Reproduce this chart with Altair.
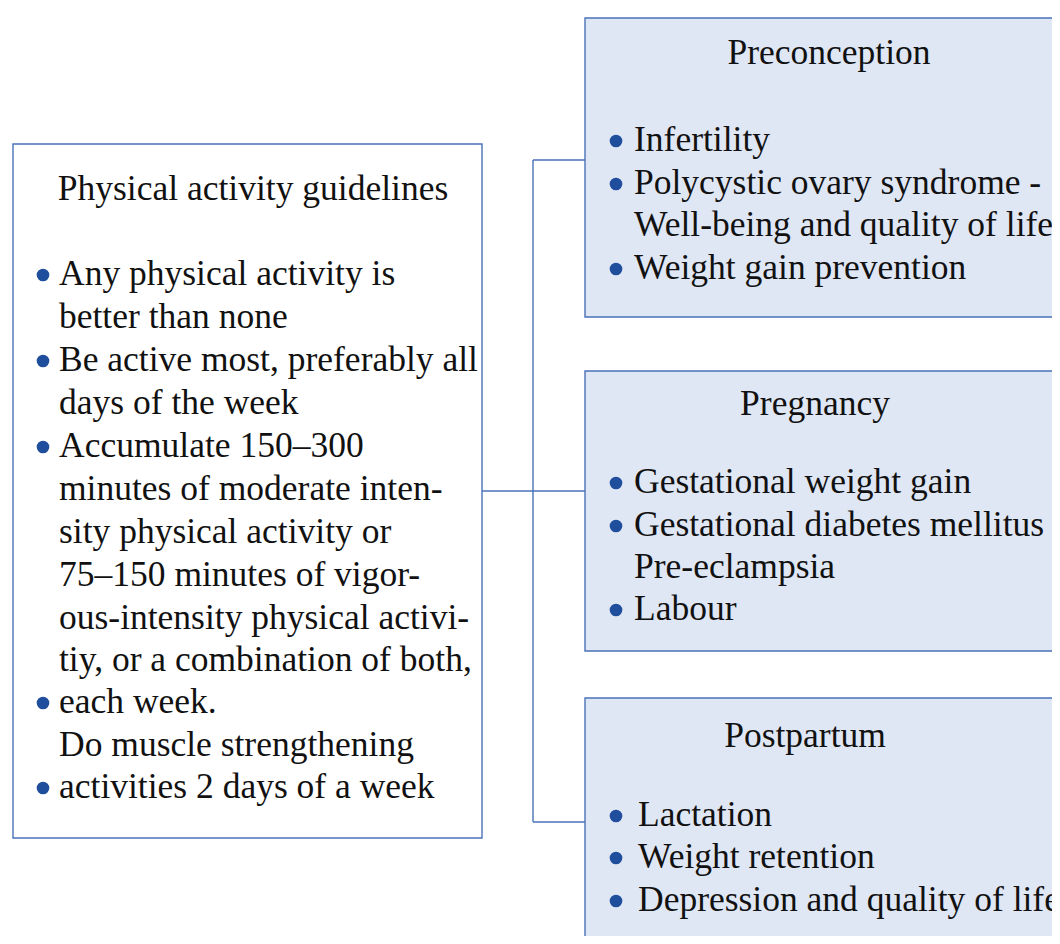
import altair as alt
import pandas as pd

FONT = "Liberation Serif"
FSIZE = 35.5
BORDER = "#4a72b8"
FILL = "#dfe6f4"
BULLET = "#1f4e9c"

# Boxes (image pixel coordinates)
box_name = ["Guidelines", "Preconception", "Pregnancy", "Postpartum"]
box_x1 = [13, 585, 585, 585]
box_x2 = [482, 1075, 1075, 1075]
box_y1 = [144, 18, 371, 698]
box_y2 = [838, 317, 651, 960]
box_fill = ["#ffffff", FILL, FILL, FILL]

# Connector lines
seg_x1 = [533, 533, 482, 533]
seg_x2 = [533, 585, 585, 585]
seg_y1 = [160, 160, 491, 822]
seg_y2 = [822, 160, 491, 822]

# Titles
title_text = ["Physical activity guidelines", "Preconception", "Pregnancy", "Postpartum"]
title_x = [253, 829, 815, 805]
title_y = [200, 64, 415, 747]

# Body lines
line_text = [
    "Any physical activity is",
    "better than none",
    "Be active most, preferably all",
    "days of the week",
    "Accumulate 150\u2013300",
    "minutes of moderate inten-",
    "sity physical activity or",
    "75\u2013150 minutes of vigor-",
    "ous-intensity physical activi-",
    "tiy, or a combination of both,",
    "each week.",
    "Do muscle strengthening",
    "activities 2 days of a week",
    "Infertility",
    "Polycystic ovary syndrome -",
    "Well-being and quality of life",
    "Weight gain prevention",
    "Gestational weight gain",
    "Gestational diabetes mellitus",
    "Pre-eclampsia",
    "Labour",
    "Lactation",
    "Weight retention",
    "Depression and quality of life",
]
line_x = [59] * 13 + [634] * 4 + [634] * 4 + [638] * 3
line_y = [285, 328, 371, 414, 457, 500, 543, 586, 629, 671, 713, 756, 798,
          151, 194, 236, 279,
          493, 536, 578, 620,
          826, 868, 911]
line_bullet = [True, False, True, False, True, False, False, False, False, False, True, False, True,
               True, True, False, True,
               True, True, False, True,
               True, True, True]
bullet_x = [43] * 13 + [616] * 11

boxes = pd.DataFrame({"name": box_name, "x1": box_x1, "x2": box_x2,
                      "y1": box_y1, "y2": box_y2, "fill": box_fill})
segs = pd.DataFrame({"x1": seg_x1, "x2": seg_x2, "y1": seg_y1, "y2": seg_y2})
titles = pd.DataFrame({"t": title_text, "x": title_x, "y": title_y})
lines = pd.DataFrame({"t": line_text, "x": line_x, "y": line_y,
                      "b": line_bullet, "bx": bullet_x})
bullets = lines[lines["b"]].copy()
bullets["by"] = bullets["y"] - 10

W, H = 1044, 928
xs = alt.Scale(domain=[8, 8 + W], nice=False, zero=False)
ys = alt.Scale(domain=[8, 8 + H], nice=False, zero=False, reverse=True)

X = lambda f: alt.X(f, type="quantitative", scale=xs, axis=None)
Y = lambda f: alt.Y(f, type="quantitative", scale=ys, axis=None)

rects = alt.Chart(boxes).mark_rect(stroke=BORDER, strokeWidth=1.4, clip=True).encode(
    x=X("x1"), x2="x2", y=Y("y1"), y2="y2",
    fill=alt.Fill("fill:N", scale=None),
)
rules = alt.Chart(segs).mark_rule(color=BORDER, strokeWidth=1.4).encode(
    x=X("x1"), x2="x2", y=Y("y1"), y2="y2",
)
tt = alt.Chart(titles).mark_text(font=FONT, fontSize=FSIZE, align="center",
                                 baseline="alphabetic", color="#111111").encode(
    x=X("x"), y=Y("y"), text="t:N",
)
lt = alt.Chart(lines).mark_text(font=FONT, fontSize=FSIZE, align="left",
                                baseline="alphabetic", color="#111111").encode(
    x=X("x"), y=Y("y"), text="t:N",
)
bp = alt.Chart(bullets).mark_point(shape="circle", filled=True, size=160,
                                   color=BULLET, opacity=1).encode(
    x=X("bx"), y=Y("by"),
)

chart = alt.layer(rects, rules, tt, lt, bp).properties(
    width=W, height=H, padding=0, background="white",
    autosize=alt.AutoSizeParams(type="none"),
).configure_view(stroke=None)

chart.save("out.html", embed_options={"renderer": "svg", "actions": False})
